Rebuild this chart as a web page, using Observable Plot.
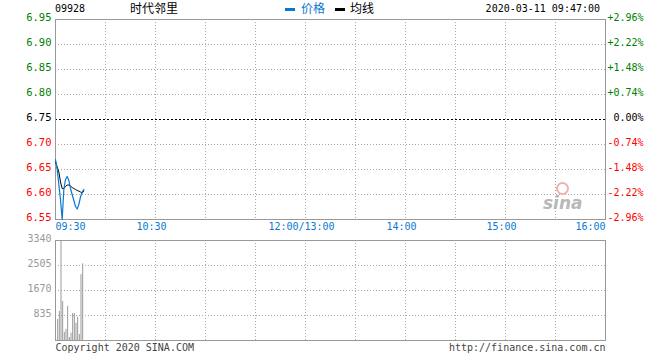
<!DOCTYPE html>
<html><head><meta charset="utf-8">
<script src="https://cdn.jsdelivr.net/npm/d3@7"></script>
<script src="https://cdn.jsdelivr.net/npm/@observablehq/plot@0.6"></script>
<style>
body{margin:0;background:#fff;}
#wrap{position:relative;width:660px;height:360px;font-family:"DejaVu Sans Mono",monospace;}
#wrap svg{position:absolute;left:0;overflow:visible;white-space:pre;}
.h{position:absolute;font-size:10px;line-height:12px;white-space:pre;}
.cn{font-family:"Noto Sans CJK SC",sans-serif;font-size:12px;line-height:14px;}
</style></head><body><div id="wrap"></div>
<script>
// ---- data ----
const stockCode = "09928";
const stockName = "时代邻里";
const stamp = "2020-03-11 09:47:00";
const prevClose = 6.75;
const priceTicks = [6.95, 6.90, 6.85, 6.80, 6.75, 6.70, 6.65, 6.60, 6.55];
const pctLabels = ["+2.96%", "+2.22%", "+1.48%", "+0.74%", " 0.00%", "-0.74%", "-1.48%", "-2.22%", "-2.96%"];
const timeTicks = [0, 60, 150, 210, 270, 330];
const timeLabels = ["09:30", "10:30", "12:00/13:00", "14:00", "15:00", "16:00"];
const gridMinutes = [30, 60, 90, 120, 150, 180, 210, 240, 270, 300];
const minutes = [0, 1, 2, 3, 4, 5, 6, 7, 8, 9, 10, 11, 12, 13, 14, 15, 16, 17];
const prices = [6.67, 6.65, 6.62, 6.59, 6.55, 6.61, 6.63, 6.636, 6.628, 6.612, 6.60, 6.588, 6.576, 6.571, 6.58, 6.595, 6.605, 6.61];
const avgPrices = [6.665, 6.655, 6.645, 6.625, 6.612, 6.612, 6.616, 6.619, 6.619, 6.617, 6.614, 6.612, 6.610, 6.608, 6.607, 6.605, 6.603, 6.607];
const volMinutes = [1, 2, 3, 4, 5, 6, 7, 8, 9, 10, 11, 12, 13, 14, 15, 16];
const volumes = [700, 970, 3340, 1300, 270, 370, 1140, 100, 245, 900, 900, 580, 780, 200, 2200, 2560];
const volTicks = [835, 1670, 2505, 3340];

// ---- tables ----
const priceRows = minutes.map((m, i) => ({m, p: prices[i], a: avgPrices[i]}));
const volRows = volMinutes.map((m, i) => ({m, v: volumes[i]}));
const pctRows = priceTicks.map((p, i) => ({p, label: pctLabels[i]}));
const timeRows = timeTicks.map((t, i) => ({t, label: timeLabels[i]}));
const col = p => p > prevClose + 1e-9 ? "#008000" : (p < prevClose - 1e-9 ? "#ff0000" : "#000000");

const font = {fontFamily: '"DejaVu Sans Mono", monospace', fontSize: "10px", background: "transparent", overflow: "visible"};
const BLUE = "#0a78d2";
const GRID = "#aaaaaa";

const price = Plot.plot({
  width: 660, height: 235,
  marginLeft: 55, marginRight: 55, marginTop: 19, marginBottom: 16,
  x: {domain: [0, 330], axis: null},
  y: {domain: [6.55, 6.95], axis: null},
  style: font,
  marks: [
    Plot.ruleY(priceTicks.filter(p => p < 6.949 && p > 6.551 && Math.abs(p - prevClose) > 1e-9), {stroke: GRID, strokeDasharray: "1,2"}),
    Plot.ruleX(gridMinutes, {stroke: GRID, strokeDasharray: "1,2"}),
    Plot.ruleY([prevClose], {stroke: "#000", strokeDasharray: "2,2"}),
    Plot.frame({stroke: "#999"}),
    Plot.line(priceRows, {x: "m", y: "a", stroke: "#000", strokeWidth: 1}),
    Plot.line(priceRows, {x: "m", y: "p", stroke: BLUE, strokeWidth: 1.2}),
    Plot.text(priceTicks, {y: d => d, text: d => d.toFixed(2), frameAnchor: "left", textAnchor: "end", dx: -4, dy: -2, fill: d => col(d), fontSize: 10.5}),
    Plot.text(pctRows, {y: "p", text: "label", frameAnchor: "right", textAnchor: "start", dx: 2, dy: -2, fill: d => col(d.p), fontSize: 10}),
    Plot.text(timeRows.slice(0, 1), {x: "t", text: "label", frameAnchor: "bottom", textAnchor: "start", dy: 10, fill: BLUE}),
    Plot.text(timeRows.slice(1, -1), {x: "t", text: "label", frameAnchor: "bottom", textAnchor: "middle", dx: -4, dy: 10, fill: BLUE}),
    Plot.text(timeRows.slice(-1), {x: "t", text: "label", frameAnchor: "bottom", textAnchor: "end", dy: 10, fill: BLUE})
  ]
});

const vol = Plot.plot({
  width: 660, height: 125,
  marginLeft: 55, marginRight: 55, marginTop: 5, marginBottom: 20,
  x: {domain: [0, 330], axis: null},
  y: {domain: [0, 3340], axis: null},
  style: font,
  marks: [
    Plot.ruleY(volTicks.slice(0, -1), {stroke: GRID, strokeDasharray: "1,2"}),
    Plot.ruleX(gridMinutes, {stroke: GRID, strokeDasharray: "1,2"}),
    Plot.frame({stroke: "#999"}),
    Plot.ruleX(volRows, {x: "m", y1: 0, y2: "v", stroke: "#999", dx: 0.5}),
    Plot.text(volTicks, {y: d => d, text: d => String(d), frameAnchor: "left", textAnchor: "end", dx: -4, dy: -2, fill: "#999"}),
    Plot.text(["Copyright 2020 SINA.COM"], {text: d => d, frameAnchor: "bottom-left", textAnchor: "start", dy: 10, fill: "#444"}),
    Plot.text(["http://finance.sina.com.cn"], {text: d => d, frameAnchor: "bottom-right", textAnchor: "end", dy: 10, fill: "#444"})
  ]
});

const wrap = document.getElementById("wrap");
price.style.top = "0px";
vol.style.top = "235px";
wrap.appendChild(price);
wrap.appendChild(vol);

function add(html, css, cls) {
  const d = document.createElement("div");
  d.className = "h " + (cls || "");
  d.style.cssText = css;
  d.innerHTML = html;
  wrap.appendChild(d);
  return d;
}
add(stockCode, "left:55px;top:3px;color:#000;");
add(stockName, "left:130px;top:1px;color:#000;", "cn");
add("", "left:285px;top:8px;width:10px;height:3px;background:" + BLUE + ";");
add("价格", "left:301px;top:1px;color:" + BLUE + ";", "cn");
add("", "left:335px;top:8px;width:10px;height:3px;background:#000;");
add("均线", "left:350px;top:1px;color:#000;", "cn");
add(stamp, "right:60px;top:3px;color:#000;");
// watermark
add("", "left:556px;top:182px;width:13px;height:13px;border-radius:50%;border:2px solid #f2b0b0;box-sizing:border-box;");
add("sina", "left:543px;top:194px;color:#b8b8b8;font-family:'DejaVu Sans',sans-serif;font-size:17px;font-weight:bold;font-style:italic;line-height:18px;");
</script></body></html>
